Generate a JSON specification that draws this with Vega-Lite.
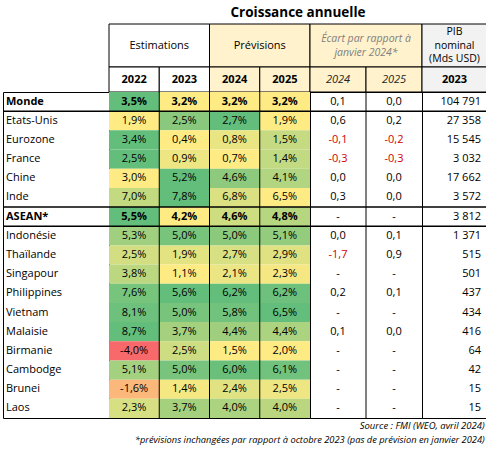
{
  "$schema": "https://vega.github.io/schema/vega-lite/v6.json",
  "padding": {"left": 1, "top": 5, "right": 0, "bottom": 0},
  "bounds": "flush",
  "spacing": 0,
  "columns": 4,
  "title": {"text": "Croissance annuelle", "font": "Open Sans", "fontSize": 13.5, "fontWeight": "bold", "color": "black", "anchor": "middle", "dx": 53, "offset": 4},
  "datasets": {
    "rows": [
      {"pays": "Monde", "bloc": "top", "g2022": 0.035, "g2023": 0.032, "g2024": 0.032, "g2025": 0.032, "e2024": 0.1, "e2025": 0.0, "pib": 104791},
      {"pays": "Etats-Unis", "bloc": "top", "g2022": 0.019, "g2023": 0.025, "g2024": 0.027, "g2025": 0.019, "e2024": 0.6, "e2025": 0.2, "pib": 27358},
      {"pays": "Eurozone", "bloc": "top", "g2022": 0.034, "g2023": 0.004, "g2024": 0.008, "g2025": 0.015, "e2024": -0.1, "e2025": -0.2, "pib": 15545},
      {"pays": "France", "bloc": "top", "g2022": 0.025, "g2023": 0.009, "g2024": 0.007, "g2025": 0.014, "e2024": -0.3, "e2025": -0.3, "pib": 3032},
      {"pays": "Chine", "bloc": "top", "g2022": 0.030, "g2023": 0.052, "g2024": 0.046, "g2025": 0.041, "e2024": 0.0, "e2025": 0.0, "pib": 17662},
      {"pays": "Inde", "bloc": "top", "g2022": 0.070, "g2023": 0.078, "g2024": 0.068, "g2025": 0.065, "e2024": 0.3, "e2025": 0.0, "pib": 3572},
      {"pays": "ASEAN*", "bloc": "top", "g2022": 0.055, "g2023": 0.042, "g2024": 0.046, "g2025": 0.048, "e2024": null, "e2025": null, "pib": 3812},
      {"pays": "Indonésie", "bloc": "asean", "g2022": 0.053, "g2023": 0.050, "g2024": 0.050, "g2025": 0.051, "e2024": 0.0, "e2025": 0.1, "pib": 1371},
      {"pays": "Thaïlande", "bloc": "asean", "g2022": 0.025, "g2023": 0.019, "g2024": 0.027, "g2025": 0.029, "e2024": -1.7, "e2025": 0.9, "pib": 515},
      {"pays": "Singapour", "bloc": "asean", "g2022": 0.038, "g2023": 0.011, "g2024": 0.021, "g2025": 0.023, "e2024": null, "e2025": null, "pib": 501},
      {"pays": "Philippines", "bloc": "asean", "g2022": 0.076, "g2023": 0.056, "g2024": 0.062, "g2025": 0.062, "e2024": 0.2, "e2025": 0.1, "pib": 437},
      {"pays": "Vietnam", "bloc": "asean", "g2022": 0.081, "g2023": 0.050, "g2024": 0.058, "g2025": 0.065, "e2024": null, "e2025": null, "pib": 434},
      {"pays": "Malaisie", "bloc": "asean", "g2022": 0.087, "g2023": 0.037, "g2024": 0.044, "g2025": 0.044, "e2024": 0.1, "e2025": 0.0, "pib": 416},
      {"pays": "Birmanie", "bloc": "asean", "g2022": -0.040, "g2023": 0.025, "g2024": 0.015, "g2025": 0.020, "e2024": null, "e2025": null, "pib": 64},
      {"pays": "Cambodge", "bloc": "asean", "g2022": 0.051, "g2023": 0.050, "g2024": 0.060, "g2025": 0.061, "e2024": null, "e2025": null, "pib": 42},
      {"pays": "Brunei", "bloc": "asean", "g2022": -0.016, "g2023": 0.014, "g2024": 0.024, "g2025": 0.025, "e2024": null, "e2025": null, "pib": 15},
      {"pays": "Laos", "bloc": "asean", "g2022": 0.023, "g2023": 0.037, "g2024": 0.040, "g2025": 0.040, "e2024": null, "e2025": null, "pib": 15}
    ]
  },
  "concat": [
    {
      "width": 106,
      "height": 43,
      "view": {"stroke": null},
      "data": {"values": [{"h": ""}]},
      "mark": {"type": "text"},
      "encoding": {"text": {"field": "h"}}
    },
    {
      "width": 201,
      "height": 43,
      "data": {"values": [{"h": "Estimations", "g": "est"}, {"h": "Prévisions", "g": "prev"}]},
      "encoding": {
        "x": {"field": "h", "type": "nominal", "axis": null, "scale": {"type": "band", "domain": ["Estimations", "Prévisions"], "paddingInner": 0, "paddingOuter": 0}}
      },
      "layer": [
        {"mark": {"type": "rect", "stroke": "black", "strokeWidth": 1}, "encoding": {"color": {"field": "g", "type": "nominal", "legend": null, "scale": {"domain": ["est", "prev"], "range": ["#FFFFFF", "#FFF2CC"]}}}},
        {"mark": {"type": "text", "fontSize": 11, "font": "Open Sans", "color": "black"}, "encoding": {"text": {"field": "h"}}}
      ]
    },
    {
      "width": 112,
      "height": 43,
      "data": {"values": [{"h": "Écart par rapport à\njanvier 2024*"}]},
      "encoding": {
        "x": {"field": "h", "type": "nominal", "axis": null, "scale": {"type": "band", "paddingInner": 0, "paddingOuter": 0}}
      },
      "layer": [
        {"mark": {"type": "rect", "stroke": "black", "strokeWidth": 1, "fill": "#FFF2CC"}},
        {"mark": {"type": "text", "fontSize": 10.5, "fontStyle": "italic", "font": "Open Sans", "color": "#7F7F7F", "lineBreak": "\n", "lineHeight": 14, "dy": -7}, "encoding": {"text": {"field": "h"}}}
      ]
    },
    {
      "width": 65,
      "height": 43,
      "data": {"values": [{"h": "PIB\nnominal\n(Mds USD)"}]},
      "encoding": {
        "x": {"field": "h", "type": "nominal", "axis": null, "scale": {"type": "band", "paddingInner": 0, "paddingOuter": 0}}
      },
      "layer": [
        {"mark": {"type": "rect", "stroke": "black", "strokeWidth": 1, "fill": "#F2F2F2"}},
        {"mark": {"type": "text", "fontSize": 10.5, "font": "Open Sans", "color": "black", "lineBreak": "\n", "lineHeight": 13.5, "dy": -13.5}, "encoding": {"text": {"field": "h"}}}
      ]
    },
    {
      "width": 106,
      "height": 25,
      "view": {"stroke": null},
      "data": {"values": [{"h": ""}]},
      "mark": {"type": "text"},
      "encoding": {"text": {"field": "h"}}
    },
    {
      "width": 201,
      "height": 25,
      "data": {"values": [{"h": "2022", "g": "est"}, {"h": "2023", "g": "est"}, {"h": "2024", "g": "prev"}, {"h": "2025", "g": "prev"}]},
      "encoding": {
        "x": {"field": "h", "type": "nominal", "axis": null, "scale": {"type": "band", "domain": ["2022", "2023", "2024", "2025"], "paddingInner": 0, "paddingOuter": 0}}
      },
      "layer": [
        {"mark": {"type": "rect", "stroke": "black", "strokeWidth": 1}, "encoding": {"color": {"field": "g", "type": "nominal", "legend": null, "scale": {"domain": ["est", "prev"], "range": ["#FFFFFF", "#FFF2CC"]}}}},
        {"mark": {"type": "text", "fontSize": 11, "fontWeight": "bold", "font": "Open Sans", "color": "black"}, "encoding": {"text": {"field": "h"}}}
      ]
    },
    {
      "width": 112,
      "height": 25,
      "data": {"values": [{"h": "2024"}, {"h": "2025"}]},
      "encoding": {
        "x": {"field": "h", "type": "nominal", "axis": null, "scale": {"type": "band", "domain": ["2024", "2025"], "paddingInner": 0, "paddingOuter": 0}}
      },
      "layer": [
        {"mark": {"type": "rect", "stroke": "black", "strokeWidth": 1, "fill": "#FFF2CC"}},
        {"mark": {"type": "text", "fontSize": 11, "fontStyle": "italic", "font": "Open Sans", "color": "#222222"}, "encoding": {"text": {"field": "h"}}}
      ]
    },
    {
      "width": 65,
      "height": 25,
      "data": {"values": [{"h": "2023"}]},
      "encoding": {
        "x": {"field": "h", "type": "nominal", "axis": null, "scale": {"type": "band", "paddingInner": 0, "paddingOuter": 0}}
      },
      "layer": [
        {"mark": {"type": "rect", "stroke": "black", "strokeWidth": 1, "fill": "#F2F2F2"}},
        {"mark": {"type": "text", "fontSize": 11, "fontWeight": "bold", "font": "Open Sans", "color": "black"}, "encoding": {"text": {"field": "h"}}}
      ]
    },
    {
      "width": 106,
      "height": 326,
      "layer": [
        {
          "data": {"name": "rows"},
          "encoding": {
            "x": {"datum": "pays", "type": "nominal", "bandPosition": 0, "axis": null, "scale": {"type": "band", "paddingInner": 0, "paddingOuter": 0}},
            "y": {"field": "pays", "type": "nominal", "axis": null, "scale": {"type": "band", "domain": ["Monde", "Etats-Unis", "Eurozone", "France", "Chine", "Inde", "ASEAN*", "Indonésie", "Thaïlande", "Singapour", "Philippines", "Vietnam", "Malaisie", "Birmanie", "Cambodge", "Brunei", "Laos"], "paddingInner": 0, "paddingOuter": 0}},
            "text": {"field": "pays"}
          },
          "layer": [
            {"transform": [{"filter": {"not": {"field": "pays", "oneOf": ["Monde", "ASEAN*"]}}}], "mark": {"type": "text", "align": "left", "dx": 3, "fontSize": 11, "font": "Open Sans", "color": "black"}},
            {"transform": [{"filter": {"field": "pays", "oneOf": ["Monde", "ASEAN*"]}}], "mark": {"type": "text", "align": "left", "dx": 3, "fontSize": 11, "fontWeight": "bold", "font": "Open Sans", "color": "black"}}
          ]
        },
        {
          "data": {"values": [{"pays": "Etats-Unis"}, {"pays": "ASEAN*"}, {"pays": "Indonésie"}]},
          "mark": {"type": "rule", "color": "black", "strokeWidth": 1.5},
          "encoding": {
            "y": {"field": "pays", "type": "nominal", "bandPosition": 0, "axis": null, "scale": {"type": "band", "domain": ["Monde", "Etats-Unis", "Eurozone", "France", "Chine", "Inde", "ASEAN*", "Indonésie", "Thaïlande", "Singapour", "Philippines", "Vietnam", "Malaisie", "Birmanie", "Cambodge", "Brunei", "Laos"], "paddingInner": 0, "paddingOuter": 0}}
          }
        }
      ]
    },
    {
      "width": 201,
      "height": 326,
      "layer": [
        {
          "data": {"name": "rows"},
          "transform": [{"fold": ["g2022", "g2023", "g2024", "g2025"], "as": ["col", "v"]}],
          "encoding": {
            "x": {"field": "col", "type": "nominal", "axis": null, "scale": {"type": "band", "domain": ["g2022", "g2023", "g2024", "g2025"], "paddingInner": 0, "paddingOuter": 0}},
            "y": {"field": "pays", "type": "nominal", "axis": null, "scale": {"type": "band", "domain": ["Monde", "Etats-Unis", "Eurozone", "France", "Chine", "Inde", "ASEAN*", "Indonésie", "Thaïlande", "Singapour", "Philippines", "Vietnam", "Malaisie", "Birmanie", "Cambodge", "Brunei", "Laos"], "paddingInner": 0, "paddingOuter": 0}}
          },
          "layer": [
            {"transform": [{"filter": {"field": "pays", "equal": "Monde"}}], "mark": "rect", "encoding": {"color": {"field": "v", "type": "quantitative", "legend": null, "scale": {"range": ["#FFEB84", "#63BE7B"], "zero": false, "nice": false, "interpolate": "rgb"}}}},
            {"transform": [{"filter": {"field": "pays", "equal": "Etats-Unis"}}], "mark": "rect", "encoding": {"color": {"field": "v", "type": "quantitative", "legend": null, "scale": {"range": ["#FFEB84", "#63BE7B"], "zero": false, "nice": false, "interpolate": "rgb"}}}},
            {"transform": [{"filter": {"field": "pays", "equal": "Eurozone"}}], "mark": "rect", "encoding": {"color": {"field": "v", "type": "quantitative", "legend": null, "scale": {"range": ["#FFEB84", "#63BE7B"], "zero": false, "nice": false, "interpolate": "rgb"}}}},
            {"transform": [{"filter": {"field": "pays", "equal": "France"}}], "mark": "rect", "encoding": {"color": {"field": "v", "type": "quantitative", "legend": null, "scale": {"range": ["#FFEB84", "#63BE7B"], "zero": false, "nice": false, "interpolate": "rgb"}}}},
            {"transform": [{"filter": {"field": "pays", "equal": "Chine"}}], "mark": "rect", "encoding": {"color": {"field": "v", "type": "quantitative", "legend": null, "scale": {"range": ["#FFEB84", "#63BE7B"], "zero": false, "nice": false, "interpolate": "rgb"}}}},
            {"transform": [{"filter": {"field": "pays", "equal": "Inde"}}], "mark": "rect", "encoding": {"color": {"field": "v", "type": "quantitative", "legend": null, "scale": {"range": ["#FFEB84", "#63BE7B"], "zero": false, "nice": false, "interpolate": "rgb"}}}},
            {"transform": [{"filter": {"field": "pays", "equal": "ASEAN*"}}], "mark": "rect", "encoding": {"color": {"field": "v", "type": "quantitative", "legend": null, "scale": {"range": ["#FFEB84", "#63BE7B"], "zero": false, "nice": false, "interpolate": "rgb"}}}},
            {"transform": [{"filter": {"and": [{"field": "bloc", "equal": "asean"}, {"field": "col", "equal": "g2022"}]}}], "mark": "rect", "encoding": {"color": {"field": "v", "type": "quantitative", "legend": null, "scale": {"domain": [-0.04, 0, 0.087], "range": ["#F8696B", "#FFEB84", "#63BE7B"], "zero": false, "nice": false, "interpolate": "rgb"}}}},
            {"transform": [{"filter": {"and": [{"field": "bloc", "equal": "asean"}, {"field": "col", "equal": "g2023"}]}}], "mark": "rect", "encoding": {"color": {"field": "v", "type": "quantitative", "legend": null, "scale": {"range": ["#FFEB84", "#63BE7B"], "zero": false, "nice": false, "interpolate": "rgb"}}}},
            {"transform": [{"filter": {"and": [{"field": "bloc", "equal": "asean"}, {"field": "col", "equal": "g2024"}]}}], "mark": "rect", "encoding": {"color": {"field": "v", "type": "quantitative", "legend": null, "scale": {"range": ["#FFEB84", "#63BE7B"], "zero": false, "nice": false, "interpolate": "rgb"}}}},
            {"transform": [{"filter": {"and": [{"field": "bloc", "equal": "asean"}, {"field": "col", "equal": "g2025"}]}}], "mark": "rect", "encoding": {"color": {"field": "v", "type": "quantitative", "legend": null, "scale": {"range": ["#FFEB84", "#63BE7B"], "zero": false, "nice": false, "interpolate": "rgb"}}}},
            {"transform": [{"filter": {"not": {"field": "pays", "oneOf": ["Monde", "ASEAN*"]}}}], "mark": {"type": "text", "fontSize": 11, "font": "Open Sans", "color": "black"}, "encoding": {"text": {"field": "v", "type": "quantitative", "format": ".1%"}}},
            {"transform": [{"filter": {"field": "pays", "oneOf": ["Monde", "ASEAN*"]}}], "mark": {"type": "text", "fontSize": 11, "fontWeight": "bold", "font": "Open Sans", "color": "black"}, "encoding": {"text": {"field": "v", "type": "quantitative", "format": ".1%"}}}
          ],
          "resolve": {"scale": {"color": "independent"}}
        },
        {
          "data": {"values": [{"col": "g2023"}, {"col": "g2024"}, {"col": "g2025"}]},
          "mark": {"type": "rule", "color": "black", "strokeWidth": 1},
          "encoding": {
            "x": {"field": "col", "type": "nominal", "bandPosition": 0, "axis": null, "scale": {"type": "band", "domain": ["g2022", "g2023", "g2024", "g2025"], "paddingInner": 0, "paddingOuter": 0}}
          }
        },
        {
          "data": {"values": [{"pays": "Etats-Unis"}, {"pays": "ASEAN*"}, {"pays": "Indonésie"}]},
          "mark": {"type": "rule", "color": "black", "strokeWidth": 1.5},
          "encoding": {
            "y": {"field": "pays", "type": "nominal", "bandPosition": 0, "axis": null, "scale": {"type": "band", "domain": ["Monde", "Etats-Unis", "Eurozone", "France", "Chine", "Inde", "ASEAN*", "Indonésie", "Thaïlande", "Singapour", "Philippines", "Vietnam", "Malaisie", "Birmanie", "Cambodge", "Brunei", "Laos"], "paddingInner": 0, "paddingOuter": 0}}
          }
        }
      ]
    },
    {
      "width": 112,
      "height": 326,
      "layer": [
        {
          "data": {"name": "rows"},
          "transform": [{"fold": ["e2024", "e2025"], "as": ["col", "v"]}],
          "encoding": {
            "x": {"field": "col", "type": "nominal", "axis": null, "scale": {"type": "band", "domain": ["e2024", "e2025"], "paddingInner": 0, "paddingOuter": 0}},
            "y": {"field": "pays", "type": "nominal", "axis": null, "scale": {"type": "band", "domain": ["Monde", "Etats-Unis", "Eurozone", "France", "Chine", "Inde", "ASEAN*", "Indonésie", "Thaïlande", "Singapour", "Philippines", "Vietnam", "Malaisie", "Birmanie", "Cambodge", "Brunei", "Laos"], "paddingInner": 0, "paddingOuter": 0}}
          },
          "layer": [
            {
              "transform": [{"filter": {"field": "v", "valid": true}}],
              "mark": {"type": "text", "fontSize": 11, "font": "Open Sans"},
              "encoding": {
                "text": {"field": "v", "type": "quantitative", "format": ".1f"},
                "color": {"condition": {"test": "datum.v < 0", "value": "#D00000"}, "value": "black"}
              }
            },
            {
              "transform": [{"filter": "!isValid(datum.v)"}],
              "mark": {"type": "text", "fontSize": 11, "font": "Open Sans", "color": "black", "text": "-"}
            }
          ]
        },
        {
          "data": {"values": [{"col": "e2025"}]},
          "mark": {"type": "rule", "color": "black", "strokeWidth": 1},
          "encoding": {
            "x": {"field": "col", "type": "nominal", "bandPosition": 0, "axis": null, "scale": {"type": "band", "domain": ["e2024", "e2025"], "paddingInner": 0, "paddingOuter": 0}}
          }
        },
        {
          "data": {"values": [{"pays": "Etats-Unis"}, {"pays": "ASEAN*"}, {"pays": "Indonésie"}]},
          "mark": {"type": "rule", "color": "black", "strokeWidth": 1.5},
          "encoding": {
            "y": {"field": "pays", "type": "nominal", "bandPosition": 0, "axis": null, "scale": {"type": "band", "domain": ["Monde", "Etats-Unis", "Eurozone", "France", "Chine", "Inde", "ASEAN*", "Indonésie", "Thaïlande", "Singapour", "Philippines", "Vietnam", "Malaisie", "Birmanie", "Cambodge", "Brunei", "Laos"], "paddingInner": 0, "paddingOuter": 0}}
          }
        }
      ]
    },
    {
      "width": 65,
      "height": 326,
      "title": {
        "text": "Source : FMI (WEO, avril 2024)",
        "subtitle": "*prévisions inchangées par rapport à octobre 2023 (pas de prévision en janvier 2024)",
        "orient": "bottom",
        "anchor": "end",
        "font": "Open Sans",
        "fontSize": 9.5,
        "fontStyle": "italic",
        "fontWeight": "normal",
        "color": "black",
        "subtitleFont": "Open Sans",
        "subtitleFontSize": 9.3,
        "subtitleFontStyle": "italic",
        "subtitleColor": "black",
        "subtitlePadding": 5,
        "offset": 3,
        "dx": -3
      },
      "layer": [
        {
          "data": {"name": "rows"},
          "transform": [{"fold": ["pib"], "as": ["col", "v"]}],
          "mark": {"type": "text", "fontSize": 11, "font": "Open Sans", "color": "black", "align": "right", "dx": -6},
          "encoding": {
            "x": {"field": "col", "type": "nominal", "bandPosition": 1, "axis": null, "scale": {"type": "band", "domain": ["pib"], "paddingInner": 0, "paddingOuter": 0}},
            "y": {"field": "pays", "type": "nominal", "axis": null, "scale": {"type": "band", "domain": ["Monde", "Etats-Unis", "Eurozone", "France", "Chine", "Inde", "ASEAN*", "Indonésie", "Thaïlande", "Singapour", "Philippines", "Vietnam", "Malaisie", "Birmanie", "Cambodge", "Brunei", "Laos"], "paddingInner": 0, "paddingOuter": 0}},
            "text": {"field": "v", "type": "quantitative", "format": ",.0f"}
          }
        },
        {
          "data": {"values": [{"pays": "Etats-Unis"}, {"pays": "ASEAN*"}, {"pays": "Indonésie"}]},
          "mark": {"type": "rule", "color": "black", "strokeWidth": 1.5},
          "encoding": {
            "y": {"field": "pays", "type": "nominal", "bandPosition": 0, "axis": null, "scale": {"type": "band", "domain": ["Monde", "Etats-Unis", "Eurozone", "France", "Chine", "Inde", "ASEAN*", "Indonésie", "Thaïlande", "Singapour", "Philippines", "Vietnam", "Malaisie", "Birmanie", "Cambodge", "Brunei", "Laos"], "paddingInner": 0, "paddingOuter": 0}}
          }
        }
      ]
    }
  ],
  "config": {
    "font": "Open Sans",
    "view": {"stroke": "black", "strokeWidth": 1},
    "concat": {"spacing": 0},
    "locale": {
      "number": {"decimal": ",", "thousands": " ", "grouping": [3], "currency": ["", ""], "minus": "-", "percent": "%"}
    }
  }
}
